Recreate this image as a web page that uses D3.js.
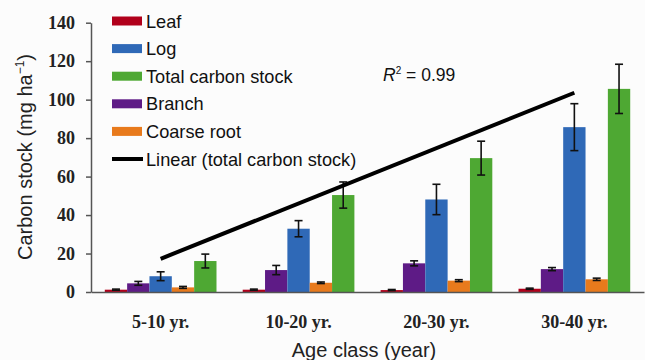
<!DOCTYPE html>
<html>
<head>
<meta charset="utf-8">
<script src="https://cdn.jsdelivr.net/npm/d3@7"></script>
<style>
  html, body { margin: 0; padding: 0; background: #fcfcfc; }
  svg { display: block; }
</style>
</head>
<body>
<svg id="chart" width="645" height="360"></svg>
<script>
// ---- data ----
const categories = ["5-10 yr.", "10-20 yr.", "20-30 yr.", "30-40 yr."];
const seriesNames = ["Leaf", "Branch", "Log", "Coarse root", "Total carbon stock"];
const leafVals = [1.2, 1.2, 1.0, 1.7];
const leafErr = [0.3, 0.3, 0.3, 0.3];
const branchVals = [4.5, 11.4, 14.9, 11.9];
const branchErr = [1.0, 2.4, 1.3, 0.8];
const logVals = [8.2, 32.9, 48.1, 85.7];
const logErr = [2.3, 4.2, 7.9, 12.2];
const coarseVals = [2.4, 4.8, 5.9, 6.6];
const coarseErr = [0.5, 0.4, 0.5, 0.6];
const totalVals = [16.1, 50.4, 69.6, 105.6];
const totalErr = [3.6, 6.8, 8.8, 12.8];
const yTicks = [0, 20, 40, 60, 80, 100, 120, 140];
const legendNames = ["Leaf", "Log", "Total carbon stock", "Branch", "Coarse root", "Linear (total carbon stock)"];
const r2Text = "0.99";

// ---- styles ----
const colors = {
  "Leaf": "#b1001b",
  "Branch": "#5e1b86",
  "Log": "#2f69b7",
  "Coarse root": "#e87a1c",
  "Total carbon stock": "#4ea833"
};

const seriesVals = {
  "Leaf": leafVals, "Branch": branchVals, "Log": logVals,
  "Coarse root": coarseVals, "Total carbon stock": totalVals
};
const seriesErr = {
  "Leaf": leafErr, "Branch": branchErr, "Log": logErr,
  "Coarse root": coarseErr, "Total carbon stock": totalErr
};

const svg = d3.select("#chart");
const sansFont = "'Liberation Sans', Arial, sans-serif";
const serifFont = "'Liberation Serif', 'Times New Roman', serif";

const x0 = d3.scaleBand().domain(categories).range([91, 644]).paddingInner(0.19).paddingOuter(0.1);
const x1 = d3.scaleBand().domain(seriesNames).range([0, x0.bandwidth()]).padding(0);
const y = d3.scaleLinear().domain([0, 140]).range([292, 22.7]);

// bars
const groups = svg.append("g").selectAll("g")
  .data(categories).join("g")
  .attr("transform", d => `translate(${x0(d)},0)`);

groups.each(function(cat, ci) {
  const g = d3.select(this);
  seriesNames.forEach(s => {
    const v = seriesVals[s][ci];
    g.append("rect")
      .attr("x", x1(s))
      .attr("y", y(v))
      .attr("width", x1.bandwidth())
      .attr("height", y(0) - y(v))
      .attr("fill", colors[s]);
  });
  seriesNames.forEach(s => {
    const v = seriesVals[s][ci], e = seriesErr[s][ci];
    const cx = x1(s) + x1.bandwidth() / 2;
    const eb = g.append("g").attr("stroke", "#111").attr("stroke-width", 1.6);
    eb.append("line").attr("x1", cx).attr("x2", cx).attr("y1", y(v + e)).attr("y2", y(v - e));
    eb.append("line").attr("x1", cx - 4).attr("x2", cx + 4).attr("y1", y(v + e)).attr("y2", y(v + e));
    eb.append("line").attr("x1", cx - 4).attr("x2", cx + 4).attr("y1", y(v - e)).attr("y2", y(v - e));
  });
});

// linear trend of total carbon stock
const n = totalVals.length;
const xs = d3.range(1, n + 1);
const mx = d3.mean(xs), my = d3.mean(totalVals);
const slope = d3.sum(xs.map((xv, i) => (xv - mx) * (totalVals[i] - my))) / d3.sum(xs.map(xv => (xv - mx) ** 2));
const intercept = my - slope * mx;
const centerX = c => x0(c) + x0.bandwidth() / 2;
svg.append("line")
  .attr("x1", centerX(categories[0])).attr("y1", y(intercept + slope * 1))
  .attr("x2", centerX(categories[n - 1])).attr("y2", y(intercept + slope * n))
  .attr("stroke", "#000").attr("stroke-width", 4);

// y axis
const yAxis = d3.axisLeft(y).tickValues(yTicks).tickSizeInner(5).tickSizeOuter(0).tickPadding(11);
const yg = svg.append("g").attr("transform", "translate(91,0)").call(yAxis);
yg.selectAll("path, line").attr("stroke", "#555").attr("stroke-width", 1.5);
yg.selectAll("text").attr("font-family", serifFont).attr("font-weight", "bold")
  .attr("font-size", 18).attr("fill", "#222");

// x axis
const xAxis = d3.axisBottom(x0).tickSize(0).tickPadding(0);
const xg = svg.append("g").attr("transform", "translate(0,292)").call(xAxis);
xg.select(".domain").attr("stroke", "#555").attr("stroke-width", 1.5);
xg.selectAll("text").attr("font-family", serifFont).attr("font-weight", "bold")
  .attr("font-size", 18).attr("fill", "#222").attr("dy", null).attr("y", 35.5);

// axis titles
const yTitle = svg.append("text")
  .attr("transform", "translate(31.5,157) rotate(-90)")
  .attr("text-anchor", "middle")
  .attr("font-family", sansFont).attr("font-size", 20).attr("fill", "#222");
yTitle.append("tspan").text("Carbon stock (mg ha");
yTitle.append("tspan").attr("font-size", 12).attr("dy", -8).text("\u22121");
yTitle.append("tspan").attr("dy", 8).text(")");

svg.append("text")
  .attr("x", 364).attr("y", 356.5)
  .attr("text-anchor", "middle")
  .attr("font-family", sansFont).attr("font-size", 20).attr("fill", "#222")
  .text("Age class (year)");

// R² label
const r2 = svg.append("text").attr("x", 383).attr("y", 81)
  .attr("font-family", sansFont).attr("font-size", 17.5).attr("fill", "#111");
r2.append("tspan").attr("font-style", "italic").text("R");
r2.append("tspan").attr("font-size", 10).attr("dy", -7).text("2");
r2.append("tspan").attr("dy", 7).text(" = " + r2Text);

// legend
const legend = svg.append("g");
legendNames.forEach((name, i) => {
  const cy = 21 + i * 27.6;
  if (colors[name]) {
    legend.append("rect").attr("x", 112).attr("y", cy - 4.5).attr("width", 30).attr("height", 9)
      .attr("fill", colors[name]);
  } else {
    legend.append("line").attr("x1", 112).attr("x2", 143).attr("y1", cy).attr("y2", cy)
      .attr("stroke", "#000").attr("stroke-width", 4);
  }
  legend.append("text").attr("x", 146).attr("y", cy).attr("dy", "0.36em")
    .attr("font-family", sansFont).attr("font-size", 18.2).attr("fill", "#111")
    .text(name);
});
</script>
</body>
</html>
